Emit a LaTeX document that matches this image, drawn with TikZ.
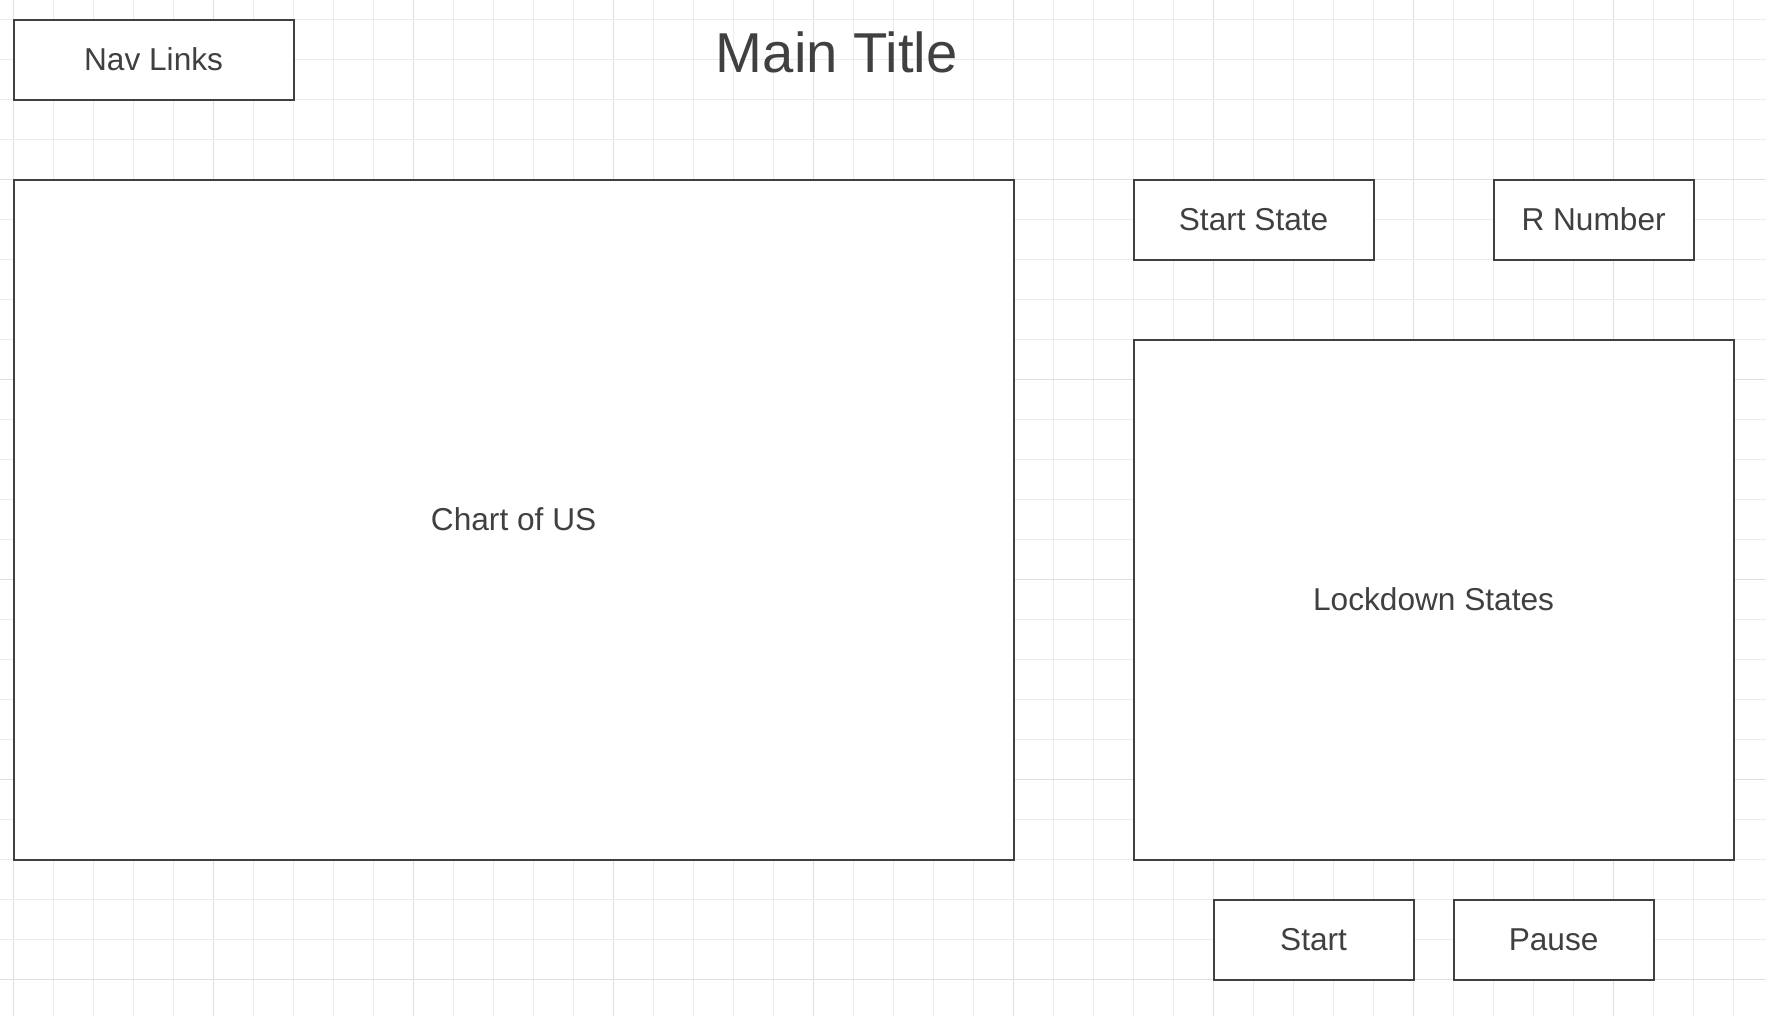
\documentclass[tikz,border=0pt]{standalone}
\usepackage{fontspec}
\setmainfont{Liberation Sans}
\usepackage{tikz}
\usetikzlibrary{positioning}

\definecolor{inkgray}{HTML}{404040}
\definecolor{gridminor}{HTML}{ECECEC}
\definecolor{gridmajor}{HTML}{E0E0E0}

\begin{document}
\begin{tikzpicture}[x=4mm, y=-4mm,
        box/.style={shape=rectangle, draw=inkgray, fill=white, line width=0.2mm,
            inner sep=0pt, text=inkgray, font=\fontsize{9}{11}\selectfont},
        minorline/.style={draw=gridminor, line width=0.14mm},
        majorline/.style={draw=gridmajor, line width=0.14mm}]

        \useasboundingbox[fill=white] (-0.34,-0.49) rectangle (43.81,24.91);

        % background grid
        \foreach \x in {0,...,43} {
            \pgfmathtruncatemacro{\r}{mod(\x,5)}
            \ifnum\r=0 \def\gs{majorline}\else\def\gs{minorline}\fi
            \draw[\gs] (\x,-0.49) -- (\x,24.91);
        }
        \foreach \y in {0,...,24} {
            \pgfmathtruncatemacro{\r}{mod(\y,5)}
            \ifnum\r=4 \def\gs{majorline}\else\def\gs{minorline}\fi
            \draw[\gs] (-0.34,\y) -- (43.81,\y);
        }

        \node[box, minimum width=28mm, minimum height=8mm] (nav) at (3.5,1) {Nav Links};
        \node[text=inkgray, font=\fontsize{16}{19}\selectfont] (title) at (20.58,0.82) {Main Title};

        \node[box, minimum width=100mm, minimum height=68mm] (chart) at (12.5,12.5) {Chart of US};

        \node[box, minimum width=24mm, minimum height=8mm] (startstate) at (31,5) {Start State};
        \node[box, minimum width=20mm, minimum height=8mm] (rnumber) at (39.5,5) {R Number};

        \node[box, minimum width=60mm, minimum height=52mm] (lockdown) at (35.5,14.5) {Lockdown States};

        \node[box, minimum width=20mm, minimum height=8mm] (start) at (32.5,23) {Start};
        \node[box, minimum width=20mm, minimum height=8mm] (pause) at (38.5,23) {Pause};

    \end{tikzpicture}
\end{document}
